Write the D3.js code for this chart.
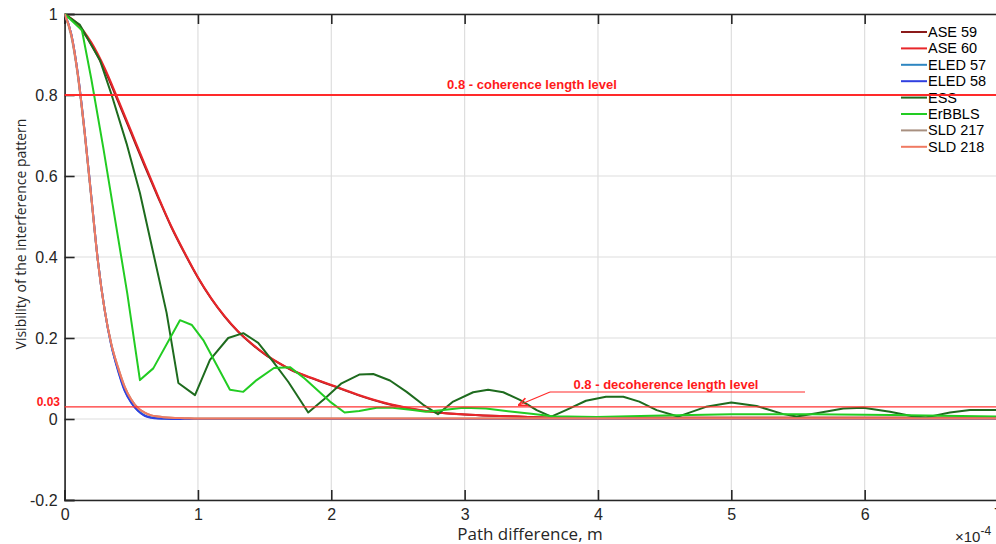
<!DOCTYPE html>
<html><head><meta charset="utf-8">
<script src="https://cdn.jsdelivr.net/npm/d3@7"></script>
<style>body{margin:0;background:#fff}svg{display:block}text{font-family:"Liberation Sans",Arial,sans-serif}</style>
</head><body><svg id="c" width="996" height="544"></svg>
<script>
// x values are in units of 1e-4 m
const xTicks = [0,1,2,3,4,5,6,7];
const yTicks = [-0.2,0,0.2,0.4,0.6,0.8,1];
const yTickLabels = ["-0.2","0","0.2","0.4","0.6","0.8","1"];

const aseX = [0,0.1,0.2,0.3,0.4,0.5,0.6,0.7,0.8,0.9,1.0,1.1,1.2,1.3,1.4,1.5,1.6,1.7,1.8,1.9,2.0,2.2,2.4,2.6,2.8,3.0,3.2,3.4,3.6,3.8,4.0,5,6,7];
const ase59 = [1,0.972,0.925,0.862,0.785,0.705,0.625,0.548,0.474,0.409,0.349,0.297,0.253,0.216,0.186,0.16,0.139,0.121,0.107,0.095,0.083,0.059,0.039,0.025,0.016,0.011,0.008,0.006,0.004,0.003,0.003,0.003,0.003,0.003];
const ase60 = [1,0.975,0.93,0.867,0.79,0.71,0.63,0.551,0.476,0.411,0.35,0.298,0.254,0.217,0.187,0.161,0.14,0.122,0.108,0.096,0.084,0.06,0.04,0.026,0.016,0.011,0.008,0.006,0.004,0.003,0.003,0.003,0.003,0.003];

const fastX = [0,0.05,0.1,0.15,0.2,0.25,0.3,0.35,0.4,0.45,0.5,0.55,0.6,0.65,0.7,0.8,0.9,1.0,2,3,4,5,6,7];
const eled57 = [1,0.95,0.85,0.71,0.55,0.39,0.27,0.183,0.122,0.072,0.041,0.021,0.009,0.004,0.002,0.001,0,0,0,0,0,0,0,0];
const eled58 = [1,0.95,0.85,0.71,0.55,0.39,0.27,0.182,0.12,0.07,0.04,0.02,0.008,0.003,0.001,0,0,0,0,0,0,0,0,0];
const sld217 = [1,0.945,0.845,0.705,0.545,0.388,0.27,0.185,0.128,0.08,0.048,0.027,0.016,0.009,0.006,0.003,0.002,0.001,0.001,0.001,0.001,0.001,0.001,0.001];
const sld218 = [1,0.95,0.85,0.71,0.55,0.39,0.27,0.186,0.128,0.08,0.048,0.027,0.016,0.009,0.006,0.003,0.002,0.001,0.001,0.001,0.001,0.001,0.001,0.001];

const essX = [0,0.115,0.265,0.353,0.465,0.565,0.665,0.765,0.853,0.978,1.09,1.227,1.34,1.452,1.565,1.677,1.827,1.95,2.077,2.214,2.315,2.44,2.565,2.69,2.80,2.914,3.064,3.176,3.29,3.414,3.54,3.65,3.76,3.91,4.06,4.19,4.31,4.44,4.6,4.81,5.0,5.19,5.39,5.49,5.64,5.84,5.99,6.19,6.36,6.46,6.64,6.79,7.0];
const ess = [1,0.973,0.886,0.8,0.68,0.558,0.41,0.262,0.089,0.059,0.146,0.2,0.212,0.188,0.141,0.092,0.016,0.05,0.088,0.11,0.111,0.095,0.067,0.035,0.012,0.043,0.066,0.072,0.066,0.047,0.022,0.006,0.022,0.045,0.055,0.055,0.043,0.022,0.006,0.03,0.041,0.032,0.012,0.006,0.014,0.026,0.028,0.018,0.007,0.004,0.016,0.022,0.022];

const erX = [0,0.13,0.2,0.29,0.38,0.47,0.565,0.665,0.865,0.955,1.04,1.24,1.34,1.44,1.57,1.69,1.80,1.99,2.10,2.21,2.34,2.46,2.61,2.71,2.84,2.99,3.16,3.36,3.5,3.66,3.99,4.4,5.0,5.6,6.2,7.0];
const erbbls = [1,0.96,0.84,0.67,0.49,0.31,0.096,0.125,0.244,0.232,0.195,0.072,0.067,0.096,0.126,0.128,0.10,0.043,0.016,0.02,0.028,0.028,0.022,0.018,0.022,0.028,0.026,0.018,0.013,0.007,0.005,0.008,0.012,0.012,0.01,0.006];

const seriesNames = ["ASE 59","ASE 60","ELED 57","ELED 58","ESS","ErBBLS","SLD 217","SLD 218"];
const seriesColors = ["#8b1a1a","#e8262a","#2e86c1","#3040e0","#1e6b1e","#22cc22","#a89080","#f07a62"];
const seriesX = [aseX,aseX,fastX,fastX,essX,erX,fastX,fastX];
const seriesY = [ase59,ase60,eled57,eled58,ess,erbbls,sld217,sld218];
const seriesSmooth = [true,true,true,true,false,false,true,true];

const levels = [0.8, 0.03];

const svg = d3.select("#c");
const L=64.6, R=998, T=14, B=500;
const x = d3.scaleLinear().domain([0,7]).range([L,R]);
const y = d3.scaleLinear().domain([-0.2,1]).range([B,T]);

// grid
svg.append("g").selectAll("line").data(xTicks).join("line")
  .attr("x1",d=>x(d)).attr("x2",d=>x(d)).attr("y1",T).attr("y2",B)
  .attr("stroke","#dedede").attr("stroke-width",1.2);
svg.append("g").selectAll("line").data(yTicks).join("line")
  .attr("x1",L).attr("x2",R).attr("y1",d=>y(d)).attr("y2",d=>y(d))
  .attr("stroke","#dedede").attr("stroke-width",1.2);

// axes
const gx = svg.append("g").attr("transform",`translate(0,${B})`)
  .call(d3.axisBottom(x).tickValues(xTicks).tickSize(-10).tickPadding(12).tickFormat(d3.format("d")));
const gxt = svg.append("g").attr("transform",`translate(0,${T})`)
  .call(d3.axisTop(x).tickValues(xTicks).tickSize(-10).tickFormat(""));
const gy = svg.append("g").attr("transform",`translate(${L},0)`)
  .call(d3.axisLeft(y).tickValues(yTicks).tickSize(-10).tickPadding(7).tickFormat((d,i)=>yTickLabels[i]));
[gx,gxt,gy].forEach(g=>{
  g.selectAll("path.domain").attr("stroke","#262626").attr("stroke-width",1.6);
  g.selectAll(".tick line").attr("stroke","#262626").attr("stroke-width",1.6);
  g.selectAll(".tick text").attr("fill","#262626").style("font-size","16px");
});
gx.selectAll(".tick text").attr("dy","0.5em");

// legend background
svg.append("rect").attr("x",890).attr("y",17).attr("width",101).attr("height",146).attr("fill","#fff");

// curves
svg.append("clipPath").attr("id","cp").append("rect").attr("x",L).attr("y",T-2).attr("width",R-L).attr("height",B-T+2);
seriesNames.forEach((n,i)=>{
  const pts = seriesX[i].map((v,j)=>[v,seriesY[i][j]]);
  const line = d3.line().x(d=>x(d[0])).y(d=>y(d[1])).curve(seriesSmooth[i]?d3.curveMonotoneX:d3.curveLinear);
  svg.append("path").attr("d",line(pts)).attr("fill","none").attr("stroke",seriesColors[i])
    .attr("stroke-width",2).attr("stroke-linejoin","round").attr("clip-path","url(#cp)");
});

// legend
const lg = svg.append("g");
seriesNames.forEach((n,i)=>{
  const yy = 32 + i*16.4;
  lg.append("line").attr("x1",901).attr("x2",927).attr("y1",yy).attr("y2",yy).attr("stroke",seriesColors[i]).attr("stroke-width",2);
  lg.append("text").attr("x",928).attr("y",yy+5).text(n).style("font-size","14.5px").attr("fill","#000");
});

// level lines
svg.append("line").attr("x1",L).attr("x2",996).attr("y1",y(levels[0])).attr("y2",y(levels[0])).attr("stroke","#ff2a2a").attr("stroke-width",1.8);
svg.append("line").attr("x1",L).attr("x2",996).attr("y1",y(levels[1])).attr("y2",y(levels[1])).attr("stroke","#ff3030").attr("stroke-width",1.3);

svg.append("text").attr("x",532).attr("y",89).attr("text-anchor","middle").text("0.8 - coherence length level")
  .style("font-size","13px").style("font-weight","bold").attr("fill","#ff1a1a");
svg.append("text").attr("x",666).attr("y",389).attr("text-anchor","middle").text("0.8 - decoherence length level")
  .style("font-size","13px").style("font-weight","bold").attr("fill","#ff1a1a");
svg.append("text").attr("x",60).attr("y",406).attr("text-anchor","end").text("0.03")
  .style("font-size","12px").style("font-weight","bold").attr("fill","#ff1a1a");

// annotation line + arrow
svg.append("defs").append("marker").attr("id","ah").attr("viewBox","0 0 10 10").attr("refX",9).attr("refY",5)
  .attr("markerWidth",8).attr("markerHeight",8).attr("orient","auto")
  .append("path").attr("d","M0,1 L10,5 L0,9").attr("fill","none").attr("stroke","#ff2a2a").attr("stroke-width",1.5);
svg.append("line").attr("x1",805).attr("x2",550).attr("y1",392).attr("y2",392).attr("stroke","#ff2a2a").attr("stroke-width",1.2);
svg.append("line").attr("x1",550).attr("x2",519).attr("y1",392).attr("y2",405).attr("stroke","#ff2a2a").attr("stroke-width",1.2).attr("marker-end","url(#ah)");

// axis titles
svg.append("text").attr("transform","translate(26,234) rotate(-90)").attr("text-anchor","middle")
  .text("Visibility of the interference pattern").style("font-family","'Open Sans',sans-serif").style("font-size","14px").attr("fill","#262626");
svg.append("text").attr("x",530).attr("y",540).attr("text-anchor","middle")
  .text("Path difference, m").style("font-family","'Open Sans',sans-serif").style("font-size","17px").attr("fill","#262626");
const ex = svg.append("text").attr("x",955).attr("y",542).style("font-size","15px").attr("fill","#262626");
ex.append("tspan").text("×10");
ex.append("tspan").attr("dy",-7).style("font-size","12px").text("-4");
</script></body></html>
